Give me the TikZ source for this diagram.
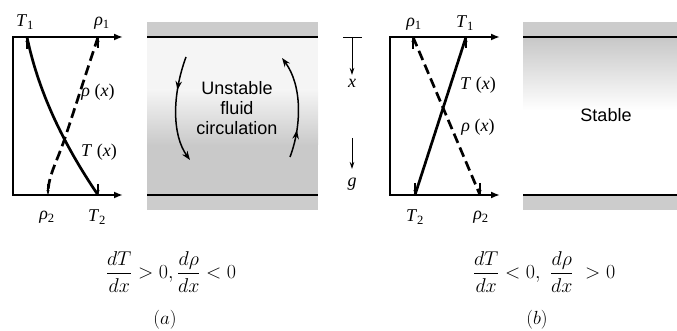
\documentclass[tikz,border=0pt]{standalone}
\usepackage{fix-cm}
\usepackage{amsmath}
\usepackage{fontspec}
\newfontfamily\sansf{Liberation Sans}
\newfontfamily\seriff{Liberation Serif}
\usetikzlibrary{arrows.meta,decorations.markings}
\newcommand{\iv}[1]{\textit{#1}}
\newcommand{\sbs}[1]{\textsubscript{#1}}
\begin{document}
\begin{tikzpicture}[x=1pt,y=-1pt,
  axis/.style={line width=2.2pt,line join=miter,{Latex[length=9pt,width=7pt]}-{Latex[length=9pt,width=7pt]}},
  wall/.style={line width=1.6pt},
  curve/.style={line width=2.7pt},
  dcurve/.style={line width=2.7pt,dash pattern=on 10pt off 5pt},
  endtick/.style={line width=1.1pt,-{Stealth[length=5pt,width=3pt]}},
  lbl/.style={font=\seriff\fontsize{18}{20}\selectfont,inner sep=0pt},
  sanslbl/.style={font=\sansf\fontsize{18}{20}\selectfont,inner sep=0pt,align=center},
  formula/.style={font=\fontsize{20}{24}\selectfont,inner sep=0pt},
  caption/.style={font=\fontsize{19}{22}\selectfont,inner sep=0pt},
  circ/.style={line width=1.5pt,-{Stealth[length=9pt,width=6.5pt]},
    postaction={decorate},
    decoration={markings,mark=at position #1 with {\arrow{Stealth[length=9pt,width=6.5pt]}}}},
  dirarrow/.style={line width=0.8pt,-{Stealth[length=7pt,width=4.5pt]}},
  band/.style={fill=black!20},
]
\useasboundingbox (0,0) rectangle (677,331);

% ---------- panel (a): profiles ----------
\coordinate (aTR) at (123,37);
\coordinate (aTL) at (13,37);
\coordinate (aBL) at (13,195);
\coordinate (aBR) at (123,195);
\draw[axis] (aTR) -- (aTL) -- (aBL) -- (aBR);

\coordinate (aT1) at (27,37);
\coordinate (aT2) at (98,195);
\coordinate (ar1) at (98,37);
\coordinate (ar2) at (48,195);
\draw[curve] (aT1) .. controls (38,90) and (62,142) .. (aT2);
\draw[dcurve] (ar1) -- (66,135) .. controls (56,165) and (48,175) .. (ar2);
\draw[endtick] (27,49) -- (aT1);
\draw[endtick] (98,48) -- (ar1);
\draw[endtick] (98,184) -- (aT2);
\draw[endtick] (48,184) -- (ar2);

\node[lbl] (laT1) at (25,22) {\iv{T}\sbs{1}};
\node[lbl] (lar1) at (102,23) {\iv{ρ}\sbs{1}};
\node[lbl] (larx) at (98,92) {\iv{ρ} (\iv{x})};
\node[lbl] (laTx) at (99,152) {\iv{T} (\iv{x})};
\node[lbl] (lar2) at (47,217) {\iv{ρ}\sbs{2}};
\node[lbl] (laT2) at (97,217) {\iv{T}\sbs{2}};

% ---------- panel (a): fluid ----------
\fill[band] (147,22) rectangle (318,37);
\fill[band] (147,195) rectangle (318,210);
\fill[black!4] (147,37) rectangle (318,90);
\shade[top color=black!4,bottom color=black!21] (147,90) rectangle (318,145);
\fill[black!21] (147,145) rectangle (318,195);
\coordinate (aw1) at (147,37); \coordinate (aw2) at (318,37);
\coordinate (aw3) at (147,195); \coordinate (aw4) at (318,195);
\draw[wall] (aw1) -- (aw2);
\draw[wall] (aw3) -- (aw4);

\node[sanslbl] (unst) at (237,108) {Unstable\\fluid\\circulation};
\coordinate (c1s) at (186,57); \coordinate (c1e) at (190,160);
\coordinate (c2s) at (290,157); \coordinate (c2e) at (282,58);
\draw[circ=0.32] (c1s) .. controls (172,95) and (172,135) .. (c1e);
\draw[circ=0.27] (c2s) .. controls (302,125) and (302,85) .. (c2e);

% ---------- x and g ----------
\coordinate (xt1) at (343,37); \coordinate (xt2) at (362,37);
\draw[line width=0.9pt] (xt1) -- (xt2);
\coordinate (xa) at (352,37); \coordinate (xb) at (352,75);
\draw[dirarrow] (xa) -- (xb);
\node[lbl] (lx) at (352,83) {\iv{x}};
\coordinate (ga) at (352,138); \coordinate (gb) at (352,169);
\draw[dirarrow] (ga) -- (gb);
\node[lbl] (lg) at (352,184) {\iv{g}};

% ---------- panel (b): profiles ----------
\coordinate (bTR) at (500,37);
\coordinate (bTL) at (390,37);
\coordinate (bBL) at (390,195);
\coordinate (bBR) at (500,195);
\draw[axis] (bTR) -- (bTL) -- (bBL) -- (bBR);

\coordinate (bT1) at (466,37);
\coordinate (bT2) at (415,195);
\coordinate (br1) at (413,37);
\coordinate (br2) at (480,195);
\draw[curve] (bT1) -- (bT2);
\draw[dcurve] (br1) -- (br2);
\draw[endtick] (466,48) -- (bT1);
\draw[endtick] (413,49) -- (br1);
\draw[endtick] (415,183) -- (bT2);
\draw[endtick] (480,183) -- (br2);

\node[lbl] (lbr1) at (414,24) {\iv{ρ}\sbs{1}};
\node[lbl] (lbT1) at (465,23) {\iv{T}\sbs{1}};
\node[lbl] (lbTx) at (478,85) {\iv{T} (\iv{x})};
\node[lbl] (lbrx) at (478,127) {\iv{ρ} (\iv{x})};
\node[lbl] (lbT2) at (415,217) {\iv{T}\sbs{2}};
\node[lbl] (lbr2) at (481,217) {\iv{ρ}\sbs{2}};

% ---------- panel (b): fluid ----------
\fill[band] (523,22) rectangle (677,37);
\fill[band] (523,195) rectangle (677,210);
\shade[top color=black!22,bottom color=white] (523,37) rectangle (677,110);
\coordinate (bw1) at (523,37); \coordinate (bw2) at (677,37);
\coordinate (bw3) at (523,195); \coordinate (bw4) at (677,195);
\draw[wall] (bw1) -- (bw2);
\draw[wall] (bw3) -- (bw4);
\node[sanslbl] (stab) at (606,115) {Stable};

% ---------- formulas ----------
\node[formula] (fa) at (171,272) {$\dfrac{dT}{dx} > 0, \dfrac{d\rho}{dx} < 0$};
\node[formula] (fb) at (544,272) {$\dfrac{dT}{dx} < 0,\ \dfrac{d\rho}{dx}\ > 0$};
\node[caption] (capa) at (165,320) {$(a)$};
\node[caption] (capb) at (537,320) {$(b)$};
\end{tikzpicture}
\end{document}
